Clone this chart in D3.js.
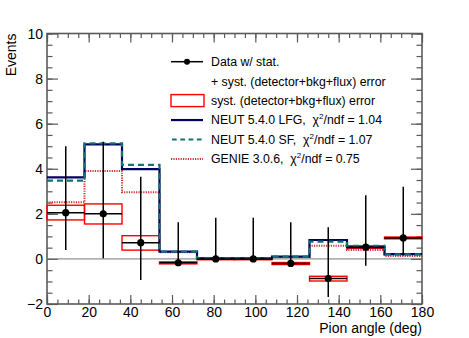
<!DOCTYPE html>
<html>
<head>
<meta charset="utf-8">
<script src="https://cdn.jsdelivr.net/npm/d3@7"></script>
<style>
  body { margin: 0; background: #fff; }
  svg text { font-family: "Liberation Sans", Arial, Helvetica, sans-serif; white-space: pre; }
</style>
</head>
<body>
<div id="js-chart"></div>
<script>
"use strict";

// bin edges (deg) and bin centres
var binEdges = [0, 18, 36, 54, 72, 90, 108, 126, 144, 162, 180];
var binCentres = [9, 27, 45, 63, 81, 99, 117, 135, 153, 171];

// data with stat.+syst. errors
var dataValues = [2.05, 2.0, 0.72, -0.17, 0.0, 0.0, -0.2, -0.87, 0.52, 0.93];
var dataErrLow = [0.4, 0.03, -0.93, -0.17, 0.0, 0.0, -0.2, -1.69, -0.3, 0.15];
var dataErrHigh = [5.0, 5.2, 3.64, 1.63, 1.83, 1.83, 1.63, 1.4, 2.82, 3.2];

// syst. only boxes
var systLow = [1.73, 1.55, 0.39, -0.22, -0.03, -0.03, -0.25, -0.98, 0.47, 0.89];
var systHigh = [2.38, 2.44, 1.03, -0.13, 0.03, 0.03, -0.16, -0.77, 0.58, 0.97];

// generator predictions
var neutLFG = [3.62, 5.08, 3.98, 0.32, 0.02, 0.02, 0.1, 0.84, 0.52, 0.21];
var neutSF = [3.47, 5.13, 4.17, 0.32, 0.02, 0.02, 0.1, 0.77, 0.58, 0.2];
var genie = [2.51, 3.9, 2.96, 0.3, 0.02, 0.02, 0.08, 0.58, 0.4, 0.13];

var xTicks = [0, 20, 40, 60, 80, 100, 120, 140, 160, 180];
var yTicks = [-2, 0, 2, 4, 6, 8, 10];

var legendRows = [
  { kind: "data", label: "Data w/ stat." },
  { kind: "none", label: "+ syst. (detector+bkg+flux) error" },
  { kind: "box", label: "syst. (detector+bkg+flux) error" },
  { kind: "lfg", label: "NEUT 5.4.0 LFG,  ", chi: "1.04" },
  { kind: "sf", label: "NEUT 5.4.0 SF,  ", chi: "1.07" },
  { kind: "genie", label: "GENIE 3.0.6,  ", chi: "0.75" }
];

var W = 469, H = 338;
var frame = { left: 47, right: 422, top: 33.5, bottom: 304 };

var colLFG = "#000066", colSF = "#137272", colGenie = "#cc3333", colFrame = "#5a5a5a";

var svg = d3.select("#js-chart").append("svg")
  .attr("width", W)
  .attr("height", H);

var x = d3.scaleLinear().domain([0, 180]).range([frame.left, frame.right]);
var y = d3.scaleLinear().domain([-2, 10]).range([frame.bottom, frame.top]);

var drawAxes = function() {
  var minorX = d3.range(0, 181, 5);
  var minorY = d3.range(-2, 10.01, 0.5);

  var addAxis = function(axis, tx, ty) {
    var g = svg.append("g")
      .attr("transform", "translate(" + tx + "," + ty + ")")
      .call(axis);
    g.select(".domain").remove();
    g.selectAll("line").attr("stroke", colFrame).attr("stroke-width", 1.2);
    return g;
  };

  // minor ticks
  addAxis(d3.axisBottom(x).tickValues(minorX).tickSize(-4.5).tickFormat(""), 0, frame.bottom);
  addAxis(d3.axisTop(x).tickValues(minorX).tickSize(-4.5).tickFormat(""), 0, frame.top);
  addAxis(d3.axisLeft(y).tickValues(minorY).tickSize(-5.5).tickFormat(""), frame.left, 0);
  addAxis(d3.axisRight(y).tickValues(minorY).tickSize(-5.5).tickFormat(""), frame.right, 0);

  // major ticks
  var gx = addAxis(d3.axisBottom(x).tickValues(xTicks).tickSize(-9), 0, frame.bottom);
  gx.selectAll("text")
    .attr("y", 13).attr("dy", 0)
    .attr("fill", "#000")
    .style("font-size", "14px");
  addAxis(d3.axisTop(x).tickValues(xTicks).tickSize(-9).tickFormat(""), 0, frame.top);

  var gy = addAxis(d3.axisLeft(y).tickValues(yTicks).tickSize(-11).tickPadding(4)
    .tickFormat(function(d) { return d < 0 ? "\u2212" + Math.abs(d) : d; }), frame.left, 0);
  gy.selectAll("text")
    .attr("dy", "0.35em")
    .attr("fill", "#000")
    .style("font-size", "14px");
  addAxis(d3.axisRight(y).tickValues(yTicks).tickSize(-11).tickFormat(""), frame.right, 0);

  svg.append("rect")
    .attr("x", frame.left)
    .attr("y", frame.top)
    .attr("width", frame.right - frame.left)
    .attr("height", frame.bottom - frame.top)
    .attr("fill", "none")
    .attr("stroke", colFrame)
    .attr("stroke-width", 1.6);

  svg.append("text")
    .attr("text-anchor", "end")
    .attr("transform", "translate(16," + frame.top + ") rotate(-90)")
    .style("font-size", "14px")
    .text("Events");

  svg.append("text")
    .attr("x", frame.right)
    .attr("y", 333)
    .attr("text-anchor", "end")
    .style("font-size", "14px")
    .text("Pion angle (deg)");
};

var drawZeroLine = function() {
  svg.append("line")
    .attr("x1", x(0)).attr("x2", x(180))
    .attr("y1", y(0)).attr("y2", y(0))
    .attr("stroke", "#777")
    .attr("stroke-width", 1);
};

var drawSyst = function() {
  svg.append("g").selectAll("rect")
    .data(binCentres)
    .enter().append("rect")
    .attr("x", function(d, i) { return x(binEdges[i]); })
    .attr("width", function(d, i) { return x(binEdges[i + 1]) - x(binEdges[i]); })
    .attr("y", function(d, i) { return y(systHigh[i]); })
    .attr("height", function(d, i) { return Math.max(1.5, y(systLow[i]) - y(systHigh[i])); })
    .attr("fill", "none")
    .attr("stroke", "#ff0000")
    .attr("stroke-width", 1.4);
};

var stepLine = d3.line()
  .x(function(d) { return x(d[0]); })
  .y(function(d) { return y(d[1]); })
  .curve(d3.curveStepAfter);

var drawHist = function(values, colour, width, dash) {
  var pts = values.map(function(v, i) { return [binEdges[i], v]; });
  pts.push([180, values[values.length - 1]]);
  svg.append("path")
    .datum(pts)
    .attr("d", stepLine)
    .attr("fill", "none")
    .attr("stroke", colour)
    .attr("stroke-width", width)
    .attr("stroke-dasharray", dash);
};

var drawData = function() {
  var g = svg.append("g");
  var pts = g.selectAll("g.pt")
    .data(dataValues)
    .enter().append("g")
    .attr("class", "pt");

  pts.append("line")
    .attr("x1", function(d, i) { return x(binEdges[i]); })
    .attr("x2", function(d, i) { return x(binEdges[i + 1]); })
    .attr("y1", function(d) { return y(d); })
    .attr("y2", function(d) { return y(d); })
    .attr("stroke", "#000")
    .attr("stroke-width", 1.5);

  pts.append("line")
    .attr("x1", function(d, i) { return x(binCentres[i]); })
    .attr("x2", function(d, i) { return x(binCentres[i]); })
    .attr("y1", function(d, i) { return y(dataErrLow[i]); })
    .attr("y2", function(d, i) { return y(dataErrHigh[i]); })
    .attr("stroke", "#000")
    .attr("stroke-width", 1.5);

  pts.append("circle")
    .attr("cx", function(d, i) { return x(binCentres[i]); })
    .attr("cy", function(d) { return y(d); })
    .attr("r", 3.6)
    .attr("fill", "#000");
};

var drawLegend = function() {
  var x0 = 171, x1 = 203, tx = 211, y0 = 61.7, dy = 19.45;
  var g = svg.append("g");

  legendRows.forEach(function(row, i) {
    var cy = y0 + i * dy;
    if (row.kind === "data") {
      g.append("line").attr("x1", x0).attr("x2", x1).attr("y1", cy).attr("y2", cy)
        .attr("stroke", "#000").attr("stroke-width", 1.5);
      g.append("circle").attr("cx", (x0 + x1) / 2).attr("cy", cy).attr("r", 3).attr("fill", "#000");
    } else if (row.kind === "box") {
      g.append("rect").attr("x", x0).attr("y", cy - 6).attr("width", x1 - x0 + 1).attr("height", 12)
        .attr("fill", "none").attr("stroke", "#ff0000").attr("stroke-width", 1.4);
    } else if (row.kind === "lfg") {
      g.append("line").attr("x1", x0).attr("x2", x1).attr("y1", cy).attr("y2", cy)
        .attr("stroke", colLFG).attr("stroke-width", 2.2);
    } else if (row.kind === "sf") {
      g.append("line").attr("x1", x0 + 1).attr("x2", x1).attr("y1", cy).attr("y2", cy)
        .attr("stroke", colSF).attr("stroke-width", 2.2).attr("stroke-dasharray", "4.7,3.6");
    } else if (row.kind === "genie") {
      g.append("line").attr("x1", x0).attr("x2", x1).attr("y1", cy).attr("y2", cy)
        .attr("stroke", colGenie).attr("stroke-width", 2).attr("stroke-dasharray", "1.2,1.2");
    }

    var t = g.append("text")
      .attr("x", tx)
      .attr("y", cy + 4.4)
      .style("font-size", "12.3px");
    t.append("tspan").text(row.label);
    if (row.chi) {
      t.append("tspan").text("\u03c7");
      t.append("tspan").attr("dy", -5).style("font-size", "8px").text("2");
      t.append("tspan").attr("dy", 5).text("/ndf = " + row.chi);
    }
  });
};

drawAxes();
drawZeroLine();
drawSyst();
drawHist(genie, colGenie, 2, "1.2,1.2");
drawHist(neutLFG, colLFG, 2.2, null);
drawHist(neutSF, colSF, 2.2, "6,4");
drawData();
drawLegend();
</script>
</body>
</html>
